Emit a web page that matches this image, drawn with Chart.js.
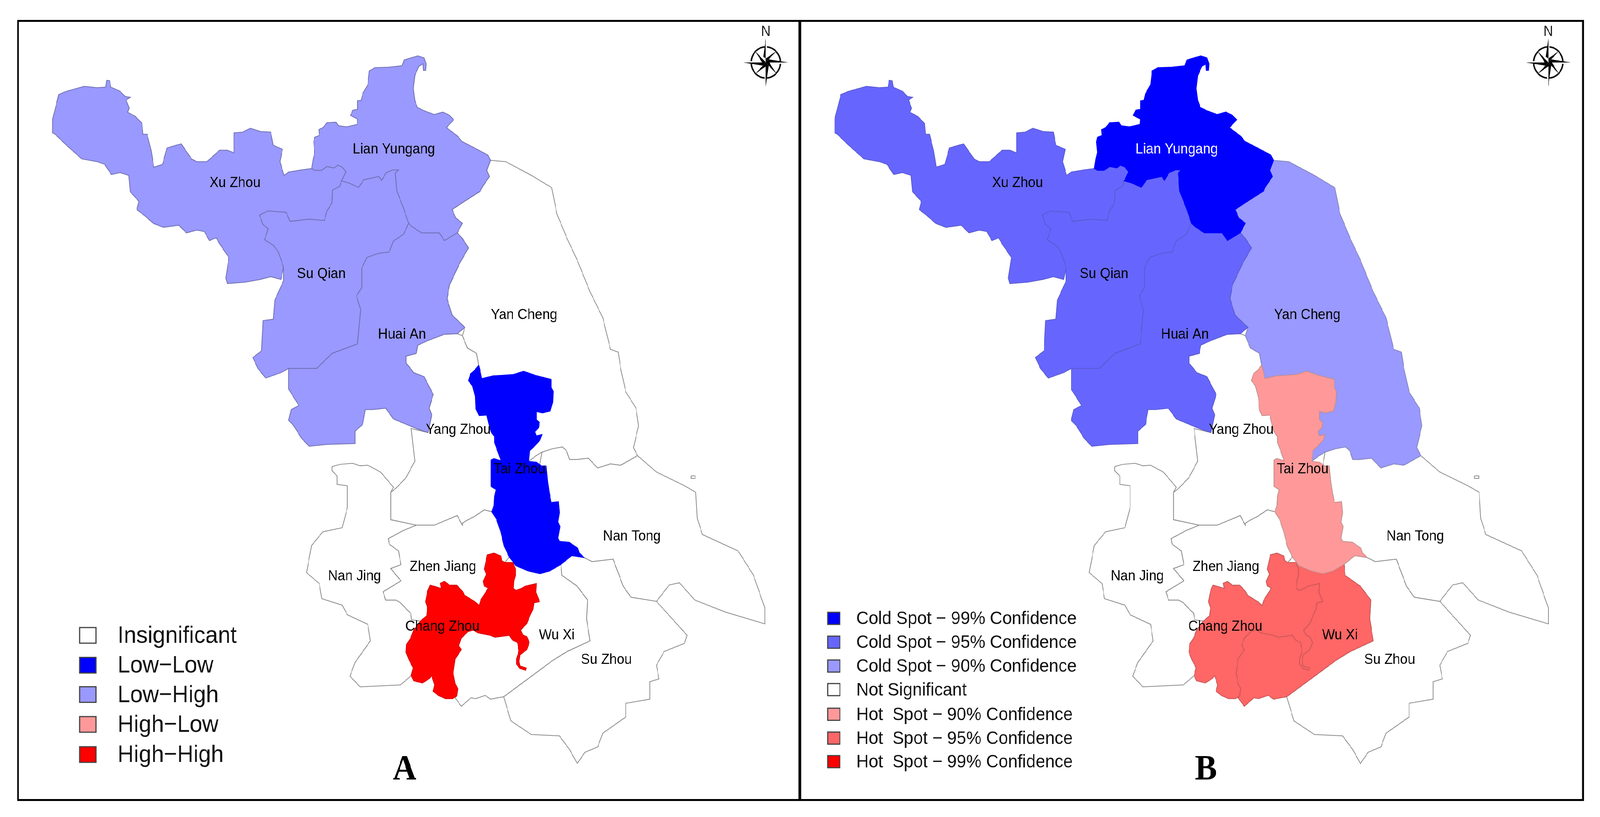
<!DOCTYPE html>
<html>
<head>
<meta charset="utf-8">
<title>Jiangsu spatial clusters</title>
<script src="https://cdn.jsdelivr.net/npm/chart.js@4/dist/chart.umd.min.js"></script>
<style>
  html, body { margin: 0; padding: 0; background: #fff; overflow: hidden; }
  #page { position: relative; width: 4394px; height: 2092px; overflow: hidden; transform-origin: 0 0; }
  canvas { position: absolute; top: 0; }
  #frame { position: absolute; left: 47px; top: 51px; width: 4293px; height: 1990px; border: 5px solid #000; }
  #divider { position: absolute; left: 2193px; top: 51px; width: 7px; height: 1998px; background: #000; }
</style>
</head>
<body>
<div id="page">
  <div id="frame"></div>
  <div id="divider"></div>
  <canvas id="mapA" width="2190" height="2092" style="left:0"></canvas>
  <canvas id="mapB" width="2204" height="2092" style="left:2190px"></canvas>
</div>
<script>
// outlines, in map units
const xuZhou = [[103,435],[115,345],[130,333],[165,315],[190,320],[207,318],[209,293],[215,295],[217,318],[235,333],[245,352],[255,355],[247,365],[253,395],[250,410],[265,425],[278,450],[280,490],[288,490],[296,550],[301,610],[318,600],[327,540],[345,530],[355,525],[362,545],[375,580],[385,590],[405,590],[430,548],[445,548],[458,558],[458,485],[475,482],[490,468],[510,480],[530,482],[535,530],[553,545],[548,590],[556,640],[565,628],[590,620],[610,615],[616,622],[629,622],[640,608],[654,613],[661,603],[670,610],[677,627],[670,656],[668,660],[665,680],[651,694],[650,740],[640,770],[635,805],[605,800],[568,808],[560,775],[525,770],[508,785],[515,820],[525,835],[518,875],[535,895],[545,920],[555,975],[550,1020],[530,1010],[510,1020],[480,1030],[445,1035],[442,1015],[448,940],[430,890],[423,868],[410,878],[400,845],[385,840],[365,850],[350,822],[320,830],[300,815],[285,790],[268,765],[272,735],[255,700],[252,640],[235,630],[218,637],[205,600],[190,590],[160,580],[130,530],[108,490],[103,485]];
const suQian = [[651,694],[665,680],[668,660],[683,668],[702,684],[712,656],[742,644],[747,658],[756,630],[769,620],[780,620],[774,632],[777,698],[790,760],[800,815],[790,855],[770,880],[762,920],[740,925],[718,940],[708,980],[708,1050],[698,1080],[706,1130],[700,1255],[650,1290],[620,1345],[565,1345],[550,1360],[520,1380],[505,1345],[495,1305],[512,1280],[515,1170],[535,1165],[538,1095],[555,1025],[555,975],[545,920],[535,895],[518,875],[525,835],[515,820],[508,785],[525,770],[560,775],[568,808],[605,800],[635,805],[640,770],[650,740]];
const lianYungang = [[610,615],[613,580],[616,556],[614,518],[616,501],[625,494],[624,473],[632,466],[640,448],[658,446],[663,459],[679,463],[699,454],[700,435],[686,421],[691,402],[700,399],[700,368],[707,366],[710,342],[720,309],[723,259],[734,247],[761,245],[787,240],[791,219],[801,213],[818,204],[830,211],[834,233],[833,257],[829,257],[828,233],[820,242],[812,276],[809,323],[812,366],[817,392],[830,404],[850,418],[867,409],[880,421],[888,437],[874,466],[896,497],[904,516],[928,539],[955,566],[960,585],[953,622],[958,644],[945,680],[940,698],[905,740],[885,765],[892,795],[905,815],[895,850],[870,878],[860,850],[825,850],[805,825],[800,815],[790,760],[777,698],[774,632],[780,620],[769,620],[756,630],[747,658],[742,644],[712,656],[702,684],[683,668],[668,660],[670,656],[677,627],[670,610],[661,603],[654,613],[640,608],[629,622],[616,622]];
const huaiAn = [[800,815],[805,825],[825,850],[860,850],[870,878],[895,850],[905,870],[917,905],[900,960],[880,1040],[875,1090],[885,1150],[910,1195],[895,1218],[870,1220],[835,1245],[818,1260],[815,1290],[795,1300],[795,1325],[810,1360],[830,1375],[848,1440],[840,1490],[845,1514],[838,1579],[815,1564],[770,1529],[755,1490],[730,1495],[715,1495],[710,1549],[695,1574],[695,1619],[640,1622],[605,1629],[590,1599],[575,1554],[565,1534],[570,1495],[585,1480],[565,1420],[565,1345],[620,1345],[650,1290],[700,1255],[706,1130],[698,1080],[708,1050],[708,980],[718,940],[740,925],[762,920],[770,880],[790,855]];
const yanCheng = [[960,585],[990,590],[1040,640],[1080,685],[1090,780],[1110,870],[1130,950],[1155,1065],[1180,1160],[1195,1275],[1210,1285],[1215,1345],[1225,1430],[1245,1490],[1250,1554],[1240,1634],[1248,1663],[1215,1698],[1195,1693],[1170,1708],[1160,1689],[1152,1672],[1129,1677],[1115,1677],[1109,1645],[1101,1631],[1081,1638],[1061,1650],[1048,1665],[1035,1684],[1037,1645],[1048,1625],[1057,1606],[1061,1586],[1050,1591],[1047,1576],[1054,1561],[1056,1542],[1050,1532],[1050,1502],[1062,1507],[1077,1500],[1082,1468],[1083,1429],[1079,1414],[1079,1385],[1048,1370],[1025,1355],[1005,1367],[984,1370],[965,1372],[943,1382],[940,1355],[937,1333],[933,1290],[915,1270],[905,1225],[910,1195],[885,1150],[875,1090],[880,1040],[900,960],[917,905],[905,870],[895,850],[905,815],[892,795],[885,765],[905,740],[940,698],[945,680],[958,644],[953,622]];
const taiZhou = [[937,1333],[940,1355],[943,1382],[965,1372],[984,1370],[1005,1367],[1025,1355],[1048,1370],[1079,1385],[1079,1414],[1083,1429],[1082,1468],[1077,1500],[1062,1507],[1050,1502],[1050,1532],[1056,1542],[1054,1561],[1047,1576],[1050,1591],[1061,1586],[1057,1606],[1048,1625],[1037,1645],[1035,1684],[1050,1687],[1060,1701],[1069,1701],[1072,1758],[1075,1797],[1079,1834],[1093,1831],[1095,1871],[1092,1905],[1096,1922],[1092,1964],[1095,1976],[1114,1979],[1131,2001],[1134,2018],[1143,2035],[1119,2028],[1098,2060],[1076,2084],[1057,2094],[1034,2084],[1010,2065],[997,2033],[987,1993],[980,1939],[972,1895],[963,1868],[967,1846],[968,1812],[971,1787],[961,1775],[961,1679],[967,1674],[981,1682],[975,1650],[968,1615],[968,1593],[961,1576],[957,1547],[953,1515],[938,1517],[932,1493],[931,1453],[925,1409],[917,1389],[921,1365],[930,1350]];
const yangZhou = [[895,1218],[870,1220],[835,1245],[818,1260],[815,1290],[795,1300],[795,1325],[810,1360],[830,1375],[848,1440],[840,1490],[845,1514],[838,1579],[805,1564],[812,1683],[795,1743],[775,1782],[765,1797],[765,1897],[815,1917],[850,1917],[895,1882],[905,1917],[905,1910],[915,1898],[929,1885],[936,1876],[948,1861],[963,1868],[967,1846],[968,1812],[971,1787],[961,1775],[961,1679],[967,1674],[981,1682],[975,1650],[968,1615],[968,1593],[961,1576],[957,1547],[953,1515],[938,1517],[932,1493],[931,1453],[925,1409],[917,1389],[921,1365],[930,1350],[937,1333],[933,1290],[915,1270],[905,1225]];
const nanJing = [[650,1703],[665,1695],[690,1691],[705,1700],[720,1698],[745,1723],[770,1778],[765,1797],[765,1897],[815,1917],[790,1936],[760,1966],[762,1986],[780,2011],[785,2061],[765,2075],[785,2120],[750,2160],[755,2190],[775,2190],[784,2200],[796,2224],[804,2238],[806,2262],[823,2267],[810,2300],[804,2329],[796,2352],[795,2381],[801,2409],[809,2438],[805,2466],[784,2500],[705,2507],[685,2468],[695,2418],[725,2339],[720,2279],[680,2244],[670,2209],[630,2185],[625,2130],[600,2090],[610,1991],[632,1941],[670,1926],[680,1852],[680,1773],[660,1768],[660,1738],[650,1718]];
const zhenJiang = [[815,1917],[850,1917],[895,1882],[905,1917],[905,1910],[915,1898],[929,1885],[936,1876],[948,1861],[963,1868],[972,1895],[980,1939],[987,1993],[997,2033],[988,2053],[982,2046],[980,2029],[967,2019],[954,2025],[948,2077],[952,2096],[946,2122],[948,2139],[956,2146],[941,2191],[938,2210],[931,2198],[919,2184],[909,2172],[905,2158],[894,2136],[880,2136],[870,2122],[862,2129],[864,2148],[852,2141],[842,2136],[837,2158],[833,2196],[837,2219],[835,2248],[823,2267],[806,2262],[804,2238],[796,2224],[784,2200],[775,2190],[755,2190],[750,2160],[785,2120],[765,2075],[785,2061],[780,2011],[762,1986],[760,1966],[790,1936]];
const changZhou = [[954,2025],[967,2019],[980,2029],[982,2046],[988,2053],[1004,2053],[1009,2077],[1009,2101],[1006,2120],[1005,2148],[1010,2155],[1018,2150],[1029,2139],[1050,2130],[1049,2162],[1056,2196],[1045,2200],[1043,2224],[1037,2248],[1031,2276],[1019,2300],[1023,2317],[1031,2324],[1036,2345],[1031,2371],[1018,2390],[1016,2414],[1018,2431],[1030,2438],[1029,2446],[1018,2440],[1011,2424],[1011,2405],[1016,2376],[1013,2345],[1003,2336],[997,2319],[969,2326],[960,2319],[936,2310],[927,2300],[916,2305],[903,2329],[898,2357],[903,2371],[891,2405],[887,2457],[891,2495],[896,2514],[894,2540],[886,2550],[872,2550],[858,2538],[848,2523],[851,2500],[845,2466],[841,2476],[827,2493],[810,2485],[805,2466],[809,2438],[801,2409],[795,2381],[796,2352],[804,2329],[810,2300],[823,2267],[835,2248],[837,2219],[833,2196],[837,2158],[842,2136],[852,2141],[864,2148],[862,2129],[870,2122],[880,2136],[894,2136],[905,2158],[909,2172],[919,2184],[931,2198],[938,2210],[941,2191],[956,2146],[948,2139],[946,2122],[952,2096],[948,2077]];
const wuXi = [[1004,2053],[1010,2065],[1034,2084],[1057,2094],[1076,2084],[1098,2060],[1100,2100],[1130,2140],[1150,2190],[1148,2259],[1155,2339],[1110,2378],[1083,2409],[1052,2452],[986,2543],[960,2552],[950,2538],[931,2550],[922,2547],[903,2578],[891,2547],[894,2540],[896,2514],[891,2495],[887,2457],[891,2405],[903,2371],[898,2357],[903,2329],[916,2305],[927,2300],[936,2310],[960,2319],[969,2326],[997,2319],[1003,2336],[1013,2345],[1016,2376],[1011,2405],[1011,2424],[1018,2440],[1029,2446],[1030,2438],[1018,2431],[1016,2414],[1018,2390],[1031,2371],[1036,2345],[1031,2324],[1023,2317],[1019,2300],[1031,2276],[1037,2248],[1043,2224],[1045,2200],[1056,2196],[1049,2162],[1050,2130],[1029,2139],[1018,2150],[1010,2155],[1005,2148],[1006,2120],[1009,2101],[1009,2077]];
const nanTong = [[1248,1663],[1285,1723],[1340,1773],[1362,1797],[1365,1892],[1375,1951],[1445,2011],[1475,2100],[1497,2219],[1497,2277],[1420,2234],[1360,2190],[1330,2127],[1310,2135],[1285,2195],[1235,2180],[1220,2140],[1200,2041],[1159,2050],[1143,2035],[1134,2018],[1131,2001],[1114,1979],[1095,1976],[1092,1964],[1096,1922],[1092,1905],[1095,1871],[1093,1831],[1079,1834],[1075,1797],[1072,1758],[1069,1701],[1060,1701],[1057,1694],[1061,1650],[1081,1638],[1101,1631],[1109,1645],[1115,1677],[1129,1677],[1152,1672],[1160,1689],[1170,1708],[1195,1693],[1215,1698]];
const nanTongIsland = [[1353,1737],[1361,1737],[1361,1746],[1353,1746]];
const suZhou = [[1098,2060],[1119,2028],[1143,2035],[1159,2050],[1200,2041],[1220,2140],[1235,2180],[1285,2195],[1345,2319],[1340,2348],[1300,2378],[1285,2428],[1290,2478],[1272,2488],[1272,2552],[1225,2567],[1225,2617],[1180,2676],[1170,2726],[1145,2746],[1130,2787],[1115,2736],[1095,2686],[1040,2681],[1000,2631],[986,2543],[1052,2452],[1083,2409],[1110,2378],[1155,2339],[1148,2259],[1150,2190],[1130,2140],[1100,2100]];

// drawn bottom to top
const regions = [yangZhou, nanJing, zhenJiang, nanTong, nanTongIsland, suZhou, yanCheng, wuXi, xuZhou, suQian, huaiAn, lianYungang, taiZhou, changZhou];
const classesA = ['none','none','none','none','none','none','none','none','lowHigh','lowHigh','lowHigh','lowHigh','lowLow','highHigh'];
const classesB = ['none','none','none','none','none','none','cold90','hot95','cold95','cold95','cold95','cold99','hot90','hot95'];

const cityNames = ['Xu Zhou','Lian Yungang','Su Qian','Huai An','Yan Cheng','Yang Zhou','Tai Zhou','Nan Tong','Zhen Jiang','Nan Jing','Chang Zhou','Wu Xi','Su Zhou'];
const cityX = [460,771,629,787,1026,897,1017,1237,867,694,866,1090,1187];
const cityY = [668,545,1000,1222,1150,1569,1713,1958,2070,2103,2287,2319,2408];

const legendA = ['Insignificant','Low\u2212Low','Low\u2212High','High\u2212Low','High\u2212High'];
const legendAClasses = ['none','lowLow','lowHigh','hot90','highHigh'];
const legendB = ['Cold Spot \u2212 99% Confidence','Cold Spot \u2212 95% Confidence','Cold Spot \u2212 90% Confidence','Not Significant','Hot  Spot \u2212 90% Confidence','Hot  Spot \u2212 95% Confidence','Hot  Spot \u2212 99% Confidence'];
const legendBClasses = ['cold99','cold95','cold90','none','hot90','hot95','highHigh'];

const fills = {
  none: '#ffffff', lowLow: '#0000ff', lowHigh: '#9999ff', highHigh: '#ff0000',
  cold99: '#0000ff', cold95: '#6666ff', cold90: '#9999ff',
  hot90: '#ff9999', hot95: '#ff6666'
};
const edges = {
  none: '#8c8c8c', lowLow: '#0000ff', lowHigh: '#7070b4', highHigh: '#e00000',
  cold99: '#0000ff', cold95: '#5a5ad0', cold90: '#8686c0',
  hot90: '#c89090', hot95: '#c85858'
};

// the window can be narrower than the 4394 wide layout
document.getElementById('page').style.transform =
  'scale(' + (window.innerWidth / 4394) + ',' + (window.innerHeight / 2092) + ')';

function drawCompass(ctx, cx, cy) {
  ctx.save();
  ctx.translate(cx, cy);
  ctx.strokeStyle = '#111';
  ctx.lineWidth = 4;
  ctx.beginPath();
  ctx.arc(0, 0, 40, 0, Math.PI * 2);
  ctx.stroke();
  for (let i = 0; i < 8; i++) {
    const long = i % 2 === 0;
    const tip = long ? 62 : 42;
    const half = long ? 8 : 7;
    ctx.save();
    ctx.rotate(i * Math.PI / 4);
    ctx.fillStyle = '#fff';
    ctx.beginPath();
    ctx.moveTo(0, -tip); ctx.lineTo(half, -half); ctx.lineTo(0, 0);
    ctx.closePath();
    ctx.fill();
    ctx.fillStyle = '#000';
    ctx.beginPath();
    ctx.moveTo(0, -tip); ctx.lineTo(-half, -half); ctx.lineTo(0, 0);
    ctx.closePath();
    ctx.fill();
    ctx.restore();
  }
  ctx.fillStyle = '#222';
  ctx.font = '36px "Liberation Sans"';
  ctx.textAlign = 'center';
  ctx.textBaseline = 'middle';
  ctx.fillText('N', 0, -78);
  ctx.restore();
}

function makeMap(id, classes, opts) {
  const datasets = regions.map((points, i) => ({
    data: points.concat([points[0]]).map(p => ({ x: p[0], y: p[1] })),
    showLine: true,
    fill: 'shape',
    tension: 0,
    pointRadius: 0,
    borderWidth: 2,
    borderColor: edges[classes[i]],
    backgroundColor: fills[classes[i]],
    order: regions.length - i
  }));

  const extras = {
    id: 'mapExtras',
    afterDatasetsDraw(chart) {
      const { ctx, scales: { x, y } } = chart;
      ctx.save();
      ctx.textBaseline = 'middle';

      ctx.font = '37px "Liberation Sans"';
      ctx.textAlign = 'center';
      cityNames.forEach((name, i) => {
        ctx.fillStyle = classes[regions.indexOf(lianYungang)] === 'cold99' && name === 'Lian Yungang' ? '#fff' : '#000';
        ctx.fillText(name, x.getPixelForValue(cityX[i]), y.getPixelForValue(cityY[i]));
      });

      ctx.textAlign = 'left';
      ctx.font = opts.legendFont;
      opts.legend.forEach((label, i) => {
        const rowY = y.getPixelForValue(opts.legendY[i]);
        const left = x.getPixelForValue(opts.swatchLeft);
        const right = x.getPixelForValue(opts.swatchRight);
        const h = opts.swatchHeight;
        ctx.fillStyle = fills[opts.legendClasses[i]];
        ctx.fillRect(left, rowY - h / 2, right - left, h);
        ctx.strokeStyle = '#444';
        ctx.lineWidth = 3;
        ctx.strokeRect(left, rowY - h / 2, right - left, h);
        ctx.fillStyle = '#111';
        ctx.fillText(label, x.getPixelForValue(opts.legendTextX), rowY + 2);
      });

      ctx.font = 'bold 90px "Liberation Serif"';
      ctx.textAlign = 'center';
      ctx.textBaseline = 'alphabetic';
      ctx.fillStyle = '#000';
      ctx.fillText(opts.letter, x.getPixelForValue(opts.letterX), y.getPixelForValue(2845));
      ctx.restore();

      drawCompass(ctx, x.getPixelForValue(opts.compassX), y.getPixelForValue(228));
    }
  };

  return new Chart(document.getElementById(id), {
    type: 'scatter',
    data: { datasets },
    options: {
      responsive: false,
      animation: false,
      devicePixelRatio: 1,
      layout: { padding: 0 },
      plugins: { legend: { display: false }, tooltip: { enabled: false } },
      scales: {
        x: { type: 'linear', display: false, min: opts.xMin, max: opts.xMax },
        y: { type: 'linear', display: false, reverse: true, min: 0, max: 2982 }
      }
    },
    plugins: [extras]
  });
}

makeMap('mapA', classesA, {
  xMin: 0, xMax: 1561,
  legend: legendA, legendClasses: legendAClasses,
  legendY: [2319, 2428, 2535, 2644, 2754],
  legendFont: '62px "Liberation Sans"',
  swatchLeft: 156, swatchRight: 188, swatchHeight: 40, legendTextX: 230,
  letter: 'A', letterX: 792, compassX: 1499
});

makeMap('mapB', classesB, {
  xMin: 30, xMax: 1598,
  legend: legendB, legendClasses: legendBClasses,
  legendY: [2257, 2344, 2431, 2517, 2607, 2694, 2780],
  legendFont: '47px "Liberation Sans"',
  swatchLeft: 89, swatchRight: 113, swatchHeight: 31, legendTextX: 145,
  letter: 'B', letterX: 828, compassX: 1497
});
</script>
</body>
</html>
